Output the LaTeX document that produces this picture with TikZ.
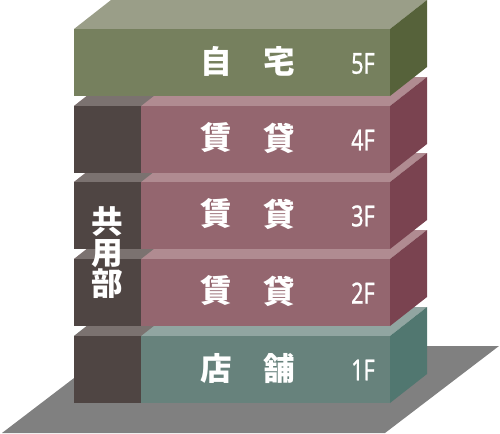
\documentclass[tikz,border=0pt]{standalone}
\usepackage{fontspec}
\usepackage{graphicx}
\newfontfamily\jpfont{Noto Sans CJK JP}
\newfontfamily\numfont{Noto Sans}[FakeBold=0.8]

\definecolor{homefront}{HTML}{76805E}
\definecolor{hometop}{HTML}{9A9E88}
\definecolor{homeside}{HTML}{56623A}
\definecolor{rentfront}{HTML}{94666F}
\definecolor{renttop}{HTML}{B08B91}
\definecolor{rentside}{HTML}{7A4350}
\definecolor{shopfront}{HTML}{67827C}
\definecolor{shoptop}{HTML}{91A5A1}
\definecolor{shopside}{HTML}{517770}
\definecolor{commonfront}{HTML}{4F4543}
\definecolor{commontop}{HTML}{7B7270}
\definecolor{groundgray}{HTML}{808080}

\begin{document}
\begin{tikzpicture}[x=0.02cm,y=-0.02cm,
	floortext/.style={text=white,inner sep=0pt,font=\jpfont\bfseries\fontsize{18}{17.6}\selectfont},
	floornum/.style={text=white,inner sep=0pt,font=\numfont\fontsize{16.5}{16.5}\selectfont}]
			\useasboundingbox (0,0) rectangle (500,433);
			% ground
			\fill[groundgray] (2,433) -- (385,433) -- (499,346) -- (116,346) -- cycle;
			% 1F
			\fill[shoptop] (74,336) -- ++(37,-29) -- ++(316,0) -- ++(-37,29) -- cycle;
			\fill[shopside] (390,336) -- ++(37,-29) -- ++(0,67) -- ++(-37,29) -- cycle;
			\fill[shopfront] (74,336) rectangle (390,403);
			\fill[commontop] (74,336) -- ++(37,-29) -- ++(67,0) -- ++(-37,29) -- cycle;
			\fill[commonfront] (74,336) rectangle (141,403);
			% 2F
			\fill[renttop] (74,259) -- ++(37,-29) -- ++(316,0) -- ++(-37,29) -- cycle;
			\fill[rentside] (390,259) -- ++(37,-29) -- ++(0,67) -- ++(-37,29) -- cycle;
			\fill[rentfront] (74,259) rectangle (390,326);
			\fill[commontop] (74,259) -- ++(37,-29) -- ++(67,0) -- ++(-37,29) -- cycle;
			\fill[commonfront] (74,259) rectangle (141,326);
			% 3F
			\fill[renttop] (74,182) -- ++(37,-29) -- ++(316,0) -- ++(-37,29) -- cycle;
			\fill[rentside] (390,182) -- ++(37,-29) -- ++(0,67) -- ++(-37,29) -- cycle;
			\fill[rentfront] (74,182) rectangle (390,249);
			\fill[commontop] (74,182) -- ++(37,-29) -- ++(67,0) -- ++(-37,29) -- cycle;
			\fill[commonfront] (74,182) rectangle (141,249);
			% 4F
			\fill[renttop] (74,106) -- ++(37,-29) -- ++(316,0) -- ++(-37,29) -- cycle;
			\fill[rentside] (390,106) -- ++(37,-29) -- ++(0,67) -- ++(-37,29) -- cycle;
			\fill[rentfront] (74,106) rectangle (390,173);
			\fill[commontop] (74,106) -- ++(37,-29) -- ++(67,0) -- ++(-37,29) -- cycle;
			\fill[commonfront] (74,106) rectangle (141,173);
			% 5F
			\fill[hometop] (74,29) -- ++(37,-29) -- ++(316,0) -- ++(-37,29) -- cycle;
			\fill[homeside] (390,29) -- ++(37,-29) -- ++(0,67) -- ++(-37,29) -- cycle;
			\fill[homefront] (74,29) rectangle (390,96);
			% labels
			\node[floortext] (home1) at (216,61) {自};
			\node[floortext] (home2) at (279,61) {宅};
			\node[floornum] (f5) at (363,63.5) {\scalebox{0.75}[1]{5F}};
			\node[floortext] (rent41) at (216,138) {賃};
			\node[floortext] (rent42) at (279,138) {貸};
			\node[floornum] (f4) at (363,140) {\scalebox{0.75}[1]{4F}};
			\node[floortext] (rent31) at (216,214) {賃};
			\node[floortext] (rent32) at (279,214) {貸};
			\node[floornum] (f3) at (363,216) {\scalebox{0.75}[1]{3F}};
			\node[floortext] (rent21) at (216,291) {賃};
			\node[floortext] (rent22) at (279,291) {貸};
			\node[floornum] (f2) at (363,293) {\scalebox{0.75}[1]{2F}};
			\node[floortext] (shop1) at (216,368) {店};
			\node[floortext] (shop2) at (279,368) {舗};
			\node[floornum] (f1) at (363,370) {\scalebox{0.75}[1]{1F}};
			\node[floortext,align=center] (common) at (107,253) {共\\用\\部};
\end{tikzpicture}
\end{document}
